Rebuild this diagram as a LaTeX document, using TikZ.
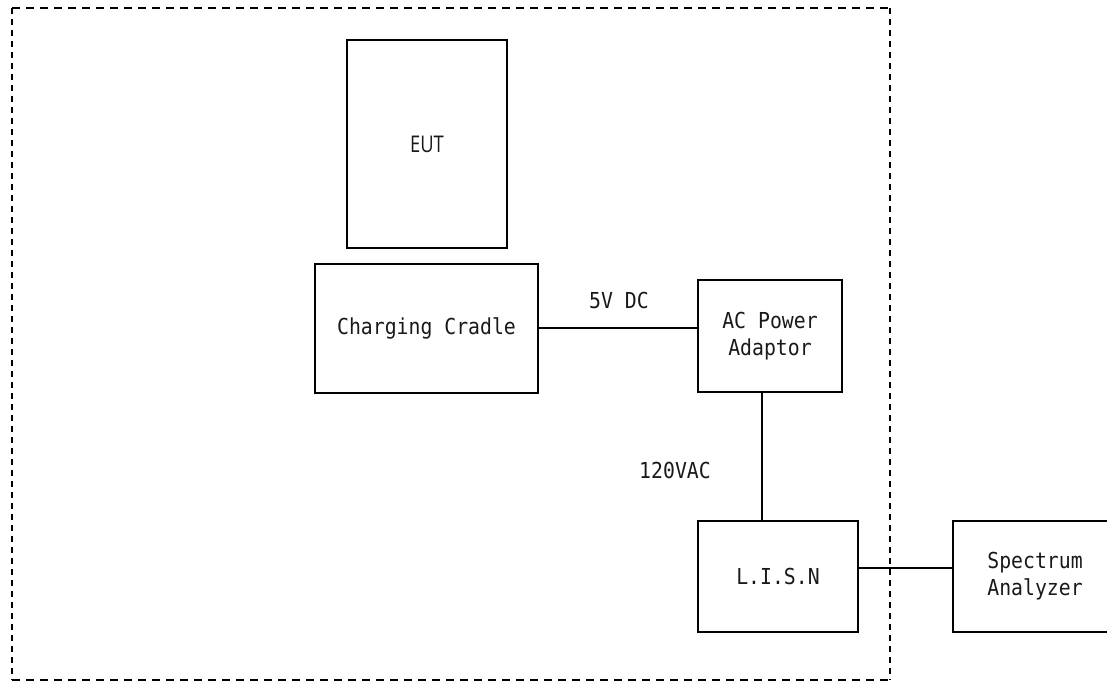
\documentclass[tikz,border=0pt]{standalone}
\usepackage{fontspec}
\newfontfamily\monof{DejaVu Sans Mono}[FakeStretch=0.9]
\newfontfamily\eutf{Open Sans}[FakeStretch=0.8]
\usetikzlibrary{calc}
\tikzset{
  blk/.style={draw, line width=1.8pt, inner sep=0pt, align=center,
    font=\monof\fontsize{22}{27}\selectfont, text=black!90},
  lbl/.style={inner sep=0pt, font=\monof\fontsize{22}{27}\selectfont, text=black!90},
  wire/.style={line width=1.5pt},
  border/.style={line width=1.8pt},
}
\begin{document}
\begin{tikzpicture}[x=1pt,y=-1pt]
\useasboundingbox (0,0) rectangle (1107,681);
\clip (0,0) rectangle (1107,681);
% dashed enclosure
\draw[border, dash pattern=on 8pt off 6pt] (12,8) -- (890,8);
\draw[border, dash pattern=on 8pt off 6pt] (12,680) -- (890,680);
\draw[border, dash pattern=on 6pt off 5pt] (12,8) -- (12,680);
\draw[border, dash pattern=on 6pt off 5pt] (890,8) -- (890,680);
% blocks
\node[blk, minimum width=160pt, minimum height=208pt, font=\eutf\fontsize{23}{27}\selectfont] (eut) at (427,144) {EUT};
\node[blk, minimum width=223pt, minimum height=129pt] (cradle) at (426.5,328.5) {Charging Cradle};
\node[blk, minimum width=144pt, minimum height=112pt] (adaptor) at (770,336) {AC Power\\Adaptor};
\node[blk, minimum width=160pt, minimum height=111pt] (lisn) at (778,576.5) {L.I.S.N};
\node[blk, minimum width=164pt, minimum height=111pt] (sa) at (1035,576.5) {Spectrum\\Analyzer};
% connectors
\draw[wire] ([yshift=0.5pt]cradle.east) -- ([yshift=0.5pt]cradle.east -| adaptor.west);
\draw[wire] ([xshift=-8pt]adaptor.south) -- ([xshift=-8pt]adaptor.south |- lisn.north);
\draw[wire] ([yshift=8.5pt]lisn.east) -- ([yshift=8.5pt]lisn.east -| sa.west);
% labels
\node[lbl, anchor=base] (dc) at (619,308) {5V DC};
\node[lbl, anchor=base] (ac) at (675,478) {120VAC};
\end{tikzpicture}
\end{document}
